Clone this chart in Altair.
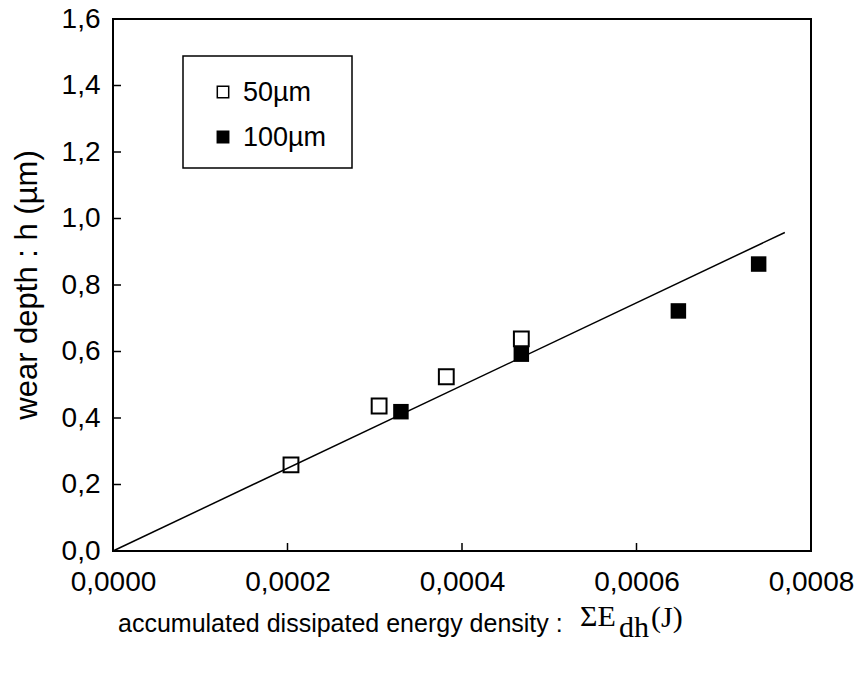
import altair as alt
import pandas as pd

# data
x50 = [0.000204, 0.000305, 0.000382, 0.000468]
y50 = [0.259, 0.436, 0.524, 0.638]
x100 = [0.000330, 0.000468, 0.000648, 0.000740]
y100 = [0.419, 0.592, 0.722, 0.863]
line_x = [0.0, 0.00077]
line_y = [0.0, 0.958]
legend_labels = ["50µm", "100µm"]
x_ticks = [0.0, 0.0002, 0.0004, 0.0006, 0.0008]
y_ticks = [0.0, 0.2, 0.4, 0.6, 0.8, 1.0, 1.2, 1.4, 1.6]

W, H = 698, 532
FONT = "Liberation Sans"
SERIF = "Liberation Serif"

df50 = pd.DataFrame({"x": x50, "y": y50})
df100 = pd.DataFrame({"x": x100, "y": y100})
dfl = pd.DataFrame({"x": line_x, "y": line_y})

xs = alt.Scale(domain=[0, 0.0008], nice=False, zero=False)
ys = alt.Scale(domain=[0, 1.6], nice=False, zero=False)

xax = alt.Axis(values=x_ticks, title=None, grid=False, domain=False, ticks=False,
               labelExpr="replace(format(datum.value, '.4f'), '.', ',')",
               labelFont=FONT, labelFontSize=28, labelColor="black", labelPadding=17,
               labelFlush=False, labelOverlap=False)
yax = alt.Axis(values=y_ticks, title=None, grid=False, domain=False, ticks=False,
               labelExpr="replace(format(datum.value, '.1f'), '.', ',')",
               labelFont=FONT, labelFontSize=28, labelColor="black", labelPadding=13,
               labelOverlap=False)

base_line = alt.Chart(dfl).mark_line(color="black", strokeWidth=1.5).encode(
    x=alt.X("x:Q", scale=xs, axis=xax),
    y=alt.Y("y:Q", scale=ys, axis=yax),
)

open_pts = alt.Chart(df50).mark_point(shape="square", size=220, filled=False,
                                       color="black", strokeWidth=2, opacity=1).encode(
    x=alt.X("x:Q", scale=xs), y=alt.Y("y:Q", scale=ys))

filled_pts = alt.Chart(df100).mark_point(shape="square", size=240, filled=True,
                                         color="black", opacity=1).encode(
    x=alt.X("x:Q", scale=xs), y=alt.Y("y:Q", scale=ys))

# inward ticks
xt = pd.DataFrame({"t": x_ticks[1:-1]})
yt = pd.DataFrame({"t": y_ticks[1:-1]})
xtick = alt.Chart(xt).mark_rule(color="black", strokeWidth=1.5).encode(
    x=alt.X("t:Q", scale=xs), y=alt.value(H), y2=alt.value(H - 8))
ytick = alt.Chart(yt).mark_rule(color="black", strokeWidth=1.5).encode(
    y=alt.Y("t:Q", scale=ys), x=alt.value(0), x2=alt.value(8))

# legend box and entries
lbox = alt.Chart(pd.DataFrame({"a": [0]})).mark_rect(
    fill="white", stroke="black", strokeWidth=1.5).encode(
    x=alt.value(70), x2=alt.value(239), y=alt.value(37), y2=alt.value(149))

def legend_row(label, filled, ypix):
    d = pd.DataFrame({"label": [label]})
    sym = alt.Chart(d).mark_point(shape="square", size=130, stroke="black",
                                  strokeWidth=1.5, opacity=1, filled=True,
                                  fill="black" if filled else "white").encode(
        x=alt.value(110), y=alt.value(ypix))
    txt = alt.Chart(d).mark_text(align="left", baseline="middle", font=FONT,
                                 fontSize=27, color="black").encode(
        x=alt.value(130), y=alt.value(ypix + 1), text="label:N")
    return sym + txt

leg1 = legend_row(legend_labels[0], False, 73)
leg2 = legend_row(legend_labels[1], True, 118)

# axis titles
ytitle = alt.Chart(pd.DataFrame({"t": ["wear depth : h (µm)"]})).mark_text(
    angle=270, font=FONT, fontSize=31, color="black", baseline="middle", align="center").encode(
    x=alt.value(-85), y=alt.value(266), text="t:N")
xtitle1 = alt.Chart(pd.DataFrame({"t": ["accumulated dissipated energy density :"]})).mark_text(
    font=FONT, fontSize=25, color="black", baseline="alphabetic", align="left").encode(
    x=alt.value(5), y=alt.value(613), text="t:N")
xtitle2 = alt.Chart(pd.DataFrame({"t": ["ΣE"]})).mark_text(
    font=SERIF, fontSize=30, color="black", baseline="alphabetic", align="left").encode(
    x=alt.value(467), y=alt.value(607), text="t:N")
xtitle3 = alt.Chart(pd.DataFrame({"t": ["dh"]})).mark_text(
    font=SERIF, fontSize=30, color="black", baseline="alphabetic", align="left").encode(
    x=alt.value(506), y=alt.value(618), text="t:N")
xtitle4 = alt.Chart(pd.DataFrame({"t": ["(J)"]})).mark_text(
    font=SERIF, fontSize=30, color="black", baseline="alphabetic", align="left").encode(
    x=alt.value(538), y=alt.value(608), text="t:N")

chart = alt.layer(
    base_line, open_pts, filled_pts, xtick, ytick, lbox, leg1, leg2,
    ytitle, xtitle1, xtitle2, xtitle3, xtitle4
).properties(
    width=W, height=H,
    autosize=alt.AutoSizeParams(type="none"),
    padding={"left": 113, "top": 19, "right": 47, "bottom": 122},
    background="white",
).configure_view(stroke="black", strokeWidth=2)

chart.save("out.html", embed_options={"renderer": "svg", "actions": False})
